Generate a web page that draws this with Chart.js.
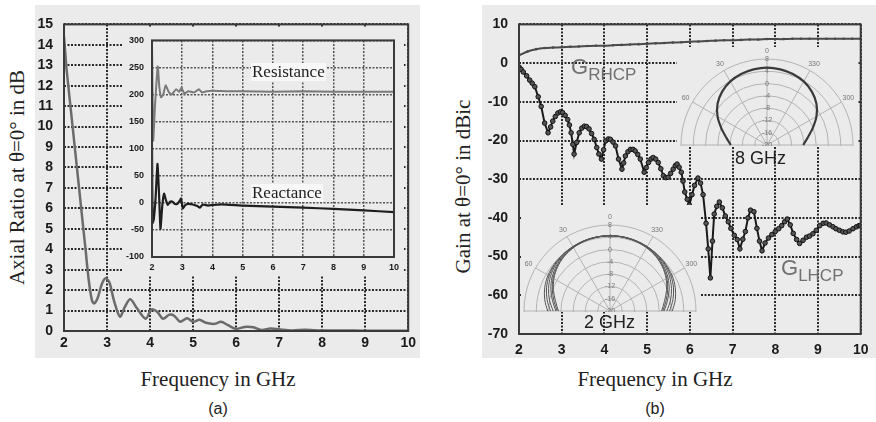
<!DOCTYPE html>
<html>
<head>
<meta charset="utf-8">
<script src="https://cdn.jsdelivr.net/npm/chart.js@4.4.1/dist/chart.umd.min.js"></script>
<style>
  body { margin: 0; width: 876px; height: 422px; background: #fff; position: relative; overflow: hidden; font-family: 'Liberation Sans', Arial, sans-serif; }
  canvas, .clip, .txt { position: absolute; }
  .grey { background: #ebebeb; }
  .clip { overflow: hidden; background: #ebebeb; }
  .serif { font-family: 'Liberation Serif', 'Times New Roman', serif; color: #222; white-space: nowrap; }
  .axt { position: absolute; font-size: 21px; text-align: center; }
  .cap { position: absolute; font-size: 16px; color: #222; width: 60px; text-align: center; }
  .zlab { position: absolute; font-size: 17px; line-height: 18px; background: #f7f7f7; padding: 0 1px; }
  .glab { position: absolute; font-size: 22px; color: #707070; white-space: nowrap; line-height: 24px; }
  .glab span { font-size: 17px; position: relative; top: 6px; }
  .ghz { position: absolute; font-size: 18px; color: #222; white-space: nowrap; }
</style>
</head>
<body>

<canvas id="arChart" class="grey" width="385" height="353" style="left:35px;top:5px"></canvas>
<canvas id="zChart" class="grey" width="282" height="248" style="left:122px;top:27px"></canvas>
<canvas id="gainChart" class="grey" width="394" height="353" style="left:482px;top:5px"></canvas>
<div id="clip8" class="clip" style="left:677px;top:47px;width:180px;height:99px"><canvas id="polar8" width="200" height="200"></canvas></div>
<div id="clip2" class="clip" style="left:521px;top:205px;width:179px;height:107px"><canvas id="polar2" width="200" height="200"></canvas></div>

<div class="zlab serif" style="left:251px;top:63px">Resistance</div>
<div class="zlab serif" style="left:251px;top:184px">Reactance</div>
<div class="glab" style="left:571px;top:55px">G<span>RHCP</span></div>
<div class="glab" style="left:781px;top:256px">G<span>LHCP</span></div>
<div class="ghz" style="left:735px;top:148px">8 GHz</div>
<div class="ghz" style="left:584px;top:312px">2 GHz</div>

<div class="axt serif" style="left:-133px;top:165px;width:300px;transform:rotate(-90deg)">Axial Ratio at θ=0° in dB</div>
<div class="axt serif" style="left:313px;top:174px;width:300px;transform:rotate(-90deg)">Gain at θ=0° in dBic</div>
<div class="axt serif" style="left:68px;top:367px;width:300px">Frequency in GHz</div>
<div class="axt serif" style="left:505px;top:367px;width:300px">Frequency in GHz</div>
<div class="cap" style="left:188px;top:400px">(a)</div>
<div class="cap" style="left:625px;top:400px">(b)</div>

<script>
// panel (a) - axial ratio
const arFreq  = [2.00, 2.03, 2.06, 2.20, 2.30, 2.40, 2.50, 2.58, 2.65, 2.70, 2.78, 2.88, 2.97, 3.06, 3.16, 3.30, 3.42, 3.54, 3.70, 3.90, 4.03, 4.17, 4.30, 4.45, 4.56, 4.70, 4.86, 5.00, 5.15, 5.30, 5.50, 5.65, 5.80, 6.00, 6.20, 6.40, 6.60, 6.80, 7.00, 7.30, 7.60, 8.00, 8.50, 9.00, 10.00];
const arValue = [14.4, 13.6, 12.8, 10.0, 8.0, 6.0, 4.0, 2.4, 1.5, 1.35, 1.6, 2.3, 2.58, 2.35, 1.5, 0.7, 1.2, 1.55, 1.1, 0.6, 1.05, 0.93, 0.6, 0.8, 0.75, 0.45, 0.62, 0.45, 0.55, 0.4, 0.35, 0.45, 0.3, 0.1, 0.2, 0.18, 0.05, 0.12, 0.08, 0.03, 0.06, 0.02, 0.03, 0.01, 0.01];

// inset: input impedance
const resFreq = [2.00, 2.04, 2.10, 2.19, 2.24, 2.30, 2.37, 2.45, 2.55, 2.65, 2.80, 2.90, 2.97, 3.07, 3.20, 3.40, 3.55, 3.65, 3.80, 4.00, 4.50, 5.00, 6.00, 7.00, 8.00, 9.00, 10.00];
const resistance = [295, 115, 180, 252, 215, 195, 200, 217, 205, 200, 210, 205, 213, 202, 206, 204, 210, 204, 206, 207, 206, 206, 205, 206, 205, 205, 205];
const reaFreq = [2.00, 2.02, 2.06, 2.12, 2.18, 2.23, 2.28, 2.34, 2.40, 2.46, 2.52, 2.60, 2.68, 2.76, 2.84, 2.92, 2.96, 3.02, 3.10, 3.20, 3.35, 3.50, 3.58, 3.68, 3.85, 4.00, 4.30, 5.00, 6.00, 7.00, 8.00, 9.00, 10.00];
const reactance = [105, -37, -30, 10, 72, 20, -48, -5, 17, 5, -4, 2, 2, -2, -2, 4, 8, -10, -4, -2, -3, -6, -9, -3, -5, -4, -3, -5, -7, -9, -11, -14, -17];

// panel (b) - gain
const rhcpFreq = [2.0, 2.2, 2.4, 2.6, 2.8, 3.0, 3.2, 3.4, 3.6, 3.8, 4.0, 4.2, 4.4, 4.6, 4.8, 5.0, 5.2, 5.4, 5.6, 5.8, 6.0, 6.2, 6.4, 6.6, 6.8, 7.0, 7.2, 7.4, 7.6, 7.8, 8.0, 8.2, 8.4, 8.6, 8.8, 9.0, 9.2, 9.4, 9.6, 9.8, 10.0];
const rhcpGain = [2.0, 3.0, 3.6, 3.9, 4.0, 4.1, 4.2, 4.3, 4.4, 4.5, 4.5, 4.6, 4.7, 4.8, 4.9, 5.0, 5.1, 5.2, 5.3, 5.4, 5.5, 5.6, 5.7, 5.8, 5.9, 5.9, 6.0, 6.1, 6.1, 6.2, 6.2, 6.2, 6.3, 6.3, 6.3, 6.3, 6.3, 6.3, 6.3, 6.3, 6.3];
const lhcpFreq = [2.00, 2.05, 2.10, 2.18, 2.25, 2.31, 2.37, 2.45, 2.52, 2.60, 2.68, 2.74, 2.79, 2.85, 2.91, 2.97, 3.02, 3.08, 3.14, 3.18, 3.22, 3.26, 3.29, 3.35, 3.41, 3.47, 3.53, 3.58, 3.64, 3.70, 3.76, 3.82, 3.87, 3.93, 3.98, 4.03, 4.09, 4.14, 4.20, 4.26, 4.33, 4.41, 4.45, 4.49, 4.55, 4.61, 4.67, 4.72, 4.78, 4.84, 4.93, 4.98, 5.03, 5.09, 5.14, 5.20, 5.26, 5.32, 5.38, 5.44, 5.49, 5.55, 5.61, 5.66, 5.70, 5.75, 5.80, 5.84, 5.88, 5.94, 5.99, 6.05, 6.11, 6.19, 6.25, 6.31, 6.38, 6.43, 6.48, 6.53, 6.57, 6.63, 6.69, 6.76, 6.83, 6.90, 6.96, 7.04, 7.11, 7.17, 7.24, 7.30, 7.36, 7.42, 7.50, 7.57, 7.63, 7.69, 7.76, 7.84, 7.92, 8.00, 8.08, 8.15, 8.22, 8.28, 8.35, 8.42, 8.50, 8.57, 8.65, 8.73, 8.80, 8.88, 8.96, 9.04, 9.12, 9.19, 9.27, 9.35, 9.42, 9.50, 9.58, 9.65, 9.73, 9.82, 9.90, 9.96, 10.00];
const lhcpGain = [-1.0, -1.6, -2.3, -3.3, -4.4, -5.2, -6.1, -8.7, -11.2, -15.5, -18.0, -16.5, -15.0, -13.8, -12.9, -12.6, -12.8, -13.5, -14.6, -16.0, -18.0, -21.0, -23.5, -20.5, -18.0, -16.8, -16.3, -16.4, -17.0, -18.2, -19.7, -21.8, -23.5, -24.8, -22.4, -20.1, -19.6, -19.7, -20.4, -21.4, -24.8, -27.4, -25.8, -24.0, -22.9, -22.3, -22.3, -22.7, -23.6, -24.8, -28.2, -27.0, -25.7, -24.8, -24.4, -24.8, -25.7, -27.3, -29.1, -29.6, -29.5, -28.5, -27.4, -26.5, -26.1, -26.9, -28.2, -30.5, -33.3, -35.2, -36.7, -34.0, -31.6, -29.7, -31.0, -34.0, -41.4, -48.0, -55.5, -46.0, -39.0, -37.0, -35.9, -37.4, -39.5, -41.0, -42.7, -44.5, -45.6, -48.0, -45.5, -43.5, -40.0, -38.0, -38.4, -42.7, -46.0, -48.5, -46.5, -45.2, -44.3, -43.5, -42.8, -42.0, -41.0, -40.3, -41.8, -44.0, -45.6, -46.6, -45.8, -45.0, -44.7, -44.1, -43.2, -42.0, -41.4, -41.3, -41.8, -42.3, -42.8, -43.2, -43.6, -43.7, -43.4, -42.8, -42.3, -42.0, -41.9];

// tick labels
const freqTicks = [2, 3, 4, 5, 6, 7, 8, 9, 10];
const arTicks = [0, 1, 2, 3, 4, 5, 6, 7, 8, 9, 10, 11, 12, 13, 14, 15];
const zTicks = [-100, -50, 0, 50, 100, 150, 200, 250, 300];
const gainTicks = [-70, -60, -50, -40, -30, -20, -10, 0, 10];

// polar insets (theta in degrees, + = left side, dB)
const polarLabels = ['0', '350', '340', '330', '320', '310', '300', '290', '280', '270', '260', '250', '240', '230', '220', '210', '200', '190', '180', '170', '160', '150', '140', '130', '120', '110', '100', '90', '80', '70', '60', '50', '40', '30', '20', '10'];
const polarShown = ['0', '30', '60', '300', '330'];
const polarRings = [-20, -16, -12, -8, -4, 0, 4, 8];
const polarTheta = [-90, -80, -70, -60, -50, -40, -30, -20, -10, 0, 10, 20, 30, 40, 50, 60, 70, 80, 90];
const pattern8 = [-8.2, -6.6, -4.2, -1.4, 1.0, 2.7, 3.9, 4.6, 5.0, 5.2, 5.0, 4.6, 3.9, 2.7, 1.0, -1.4, -4.2, -6.6, -8.2];
const pattern2 = [
  [0.3, 1.6, 2.6, 3.3, 3.7, 4.0, 4.2, 4.4, 4.5, 4.5, 4.5, 4.4, 4.2, 4.0, 3.7, 3.3, 2.6, 1.6, 0.3],
  [-0.6, 0.8, 2.0, 2.9, 3.5, 3.9, 4.2, 4.4, 4.5, 4.5, 4.5, 4.4, 4.2, 3.9, 3.5, 2.9, 2.0, 0.8, -0.6],
  [-1.5, 0.0, 1.3, 2.4, 3.2, 3.7, 4.1, 4.3, 4.5, 4.5, 4.5, 4.3, 4.1, 3.7, 3.2, 2.4, 1.3, 0.0, -1.5],
  [-2.4, -1.0, 0.5, 1.8, 2.8, 3.5, 4.0, 4.3, 4.4, 4.5, 4.4, 4.3, 4.0, 3.5, 2.8, 1.8, 0.5, -1.0, -2.4],
  [-2.8, -1.5, 0.0, 1.4, 2.5, 3.3, 3.9, 4.2, 4.4, 4.5, 4.4, 4.2, 3.9, 3.3, 2.5, 1.4, 0.0, -1.5, -2.8],
  [-3.2, -2.0, -0.4, 1.1, 2.3, 3.2, 3.8, 4.2, 4.4, 4.5, 4.4, 4.2, 3.8, 3.2, 2.3, 1.1, -0.4, -2.0, -3.2]
];

const tickFont = "'Liberation Sans', Arial, sans-serif";

function pts(xs, ys) {
  return xs.map((x, i) => ({ x: x, y: ys[i] }));
}

// draws the closed frame round the plot area
const frame = {
  id: 'frame',
  afterDraw(chart, args, opts) {
    const a = chart.chartArea;
    const ctx = chart.ctx;
    ctx.save();
    ctx.strokeStyle = opts.color || '#3a3a3a';
    ctx.lineWidth = opts.width || 2;
    ctx.strokeRect(a.left, a.top, a.right - a.left, a.bottom - a.top);
    ctx.restore();
  }
};

function axis(list, min, max, o) {
  return {
    type: 'linear', min: min, max: max,
    afterBuildTicks: s => { s.ticks = list.map(v => ({ value: v })); },
    afterFit: s => { if (o.w) s.width = o.w; if (o.h) s.height = o.h; },
    grid: { color: o.gridColor, lineWidth: o.gridWidth, drawTicks: false },
    border: { display: false, dash: o.dash },
    ticks: { padding: o.pad, color: '#1a1a1a', font: { family: tickFont, size: o.font, weight: 'bold' }, maxRotation: 0, autoSkip: false }
  };
}

function xyChart(id, datasets, xs, ys, pad) {
  return new Chart(document.getElementById(id), {
    type: 'scatter',
    data: { datasets: datasets },
    options: {
      responsive: false, animation: false, devicePixelRatio: 1,
      layout: { autoPadding: false, padding: pad },
      plugins: { legend: { display: false }, tooltip: { enabled: false }, frame: {} },
      scales: { x: xs, y: ys }
    },
    plugins: [frame]
  });
}

// panel (a)
xyChart('arChart', [
  { data: pts(arFreq, arValue), showLine: true, borderColor: '#6b6b6b', borderWidth: 2.5, pointRadius: 0, tension: 0.3 }
],
  axis(freqTicks, 2, 10, { h: 27, pad: 4, font: 14, gridColor: '#2a2a2a', gridWidth: 2, dash: [2, 1.5] }),
  axis(arTicks, 0, 15, { w: 29, pad: 11, font: 14, gridColor: '#2a2a2a', gridWidth: 2, dash: [2, 1.5] }),
  { top: 11, right: 5, left: 0, bottom: 0 });

xyChart('zChart', [
  { data: pts(resFreq, resistance), showLine: true, borderColor: '#7a7a7a', borderWidth: 2, pointRadius: 0, tension: 0.15 },
  { data: pts(reaFreq, reactance), showLine: true, borderColor: '#1e1e1e', borderWidth: 2.2, pointRadius: 0, tension: 0.15 }
],
  axis(freqTicks, 2, 10, { h: 18, pad: 5, font: 9, gridColor: '#555', gridWidth: 1.5, dash: [2, 1.5] }),
  axis(zTicks, -100, 300, { w: 30, pad: 8, font: 9, gridColor: '#555', gridWidth: 1.5, dash: [2, 1.5] }),
  { top: 6, right: 5, left: 0, bottom: 0 });

// panel (b)
xyChart('gainChart', [
  { data: pts(rhcpFreq, rhcpGain), showLine: true, borderColor: '#4a4a4a', borderWidth: 2, pointRadius: 1.3, pointBackgroundColor: '#4a4a4a', pointBorderWidth: 0, tension: 0.3 },
  { data: pts(lhcpFreq, lhcpGain), showLine: true, borderColor: '#1a1a1a', borderWidth: 2, pointRadius: 2.3, pointBackgroundColor: '#555', pointBorderColor: '#111', pointBorderWidth: 1, tension: 0 }
],
  axis(freqTicks, 2, 10, { h: 24, pad: 7.5, font: 14, gridColor: '#2a2a2a', gridWidth: 2, dash: [2, 1.5] }),
  axis(gainTicks, -70, 10, { w: 37, pad: 11, font: 14, gridColor: '#2a2a2a', gridWidth: 2, dash: [2, 1.5] }),
  { top: 15, right: 11, left: 0, bottom: 0 });

// polar insets
function toRadar(gains) {
  return polarLabels.map(l => {
    const a = Number(l);
    const t = a <= 90 ? a : (a >= 270 ? a - 360 : null);
    return t === null ? null : gains[polarTheta.indexOf(t)];
  });
}

const angleLabels = {
  id: 'angleLabels',
  afterDraw(chart) {
    const s = chart.scales.r;
    const ctx = chart.ctx;
    ctx.save();
    ctx.font = "7px 'Liberation Sans', sans-serif";
    ctx.fillStyle = '#777';
    ctx.textAlign = 'center';
    ctx.textBaseline = 'middle';
    chart.data.labels.forEach((lab, i) => {
      if (!polarShown.includes(lab)) return;
      const p = s.getPointPosition(i, s.drawingArea + 8);
      ctx.fillText(lab, p.x, p.y);
    });
    ctx.restore();
  }
};

function polar(id, clipId, patterns, color, width, cx, cy) {
  const canvas = document.getElementById(id);
  const chart = new Chart(canvas, {
    type: 'radar',
    data: {
      labels: polarLabels,
      datasets: patterns.map(g => ({ data: toRadar(g), borderColor: color, borderWidth: width, pointRadius: 0, fill: false, tension: 0.3, spanGaps: false }))
    },
    options: {
      responsive: false, animation: false, devicePixelRatio: 1,
      layout: { padding: 10 },
      plugins: { legend: { display: false }, tooltip: { enabled: false } },
      scales: {
        r: {
          min: polarRings[0], max: polarRings[polarRings.length - 1], startAngle: 0,
          afterBuildTicks: s => { s.ticks = polarRings.map(v => ({ value: v })); },
          ticks: { color: '#777', font: { size: 7 }, showLabelBackdrop: false, backdropPadding: 0 },
          grid: { color: '#b3b3b3', lineWidth: 1, circular: true },
          angleLines: { display: true, lineWidth: 1, color: c => (c.index % 3 === 0 ? '#b3b3b3' : 'rgba(0,0,0,0)') },
          pointLabels: { display: false }
        }
      }
    },
    plugins: [angleLabels]
  });
  const s = chart.scales.r;
  const clip = document.getElementById(clipId);
  canvas.style.left = (cx - clip.offsetLeft - s.xCenter) + 'px';
  canvas.style.top = (cy - clip.offsetTop - s.yCenter) + 'px';
}

polar('polar8', 'clip8', [pattern8], '#3a3a3a', 2.2, 767, 145);
polar('polar2', 'clip2', pattern2, '#555', 1, 610, 311);
</script>
</body>
</html>
